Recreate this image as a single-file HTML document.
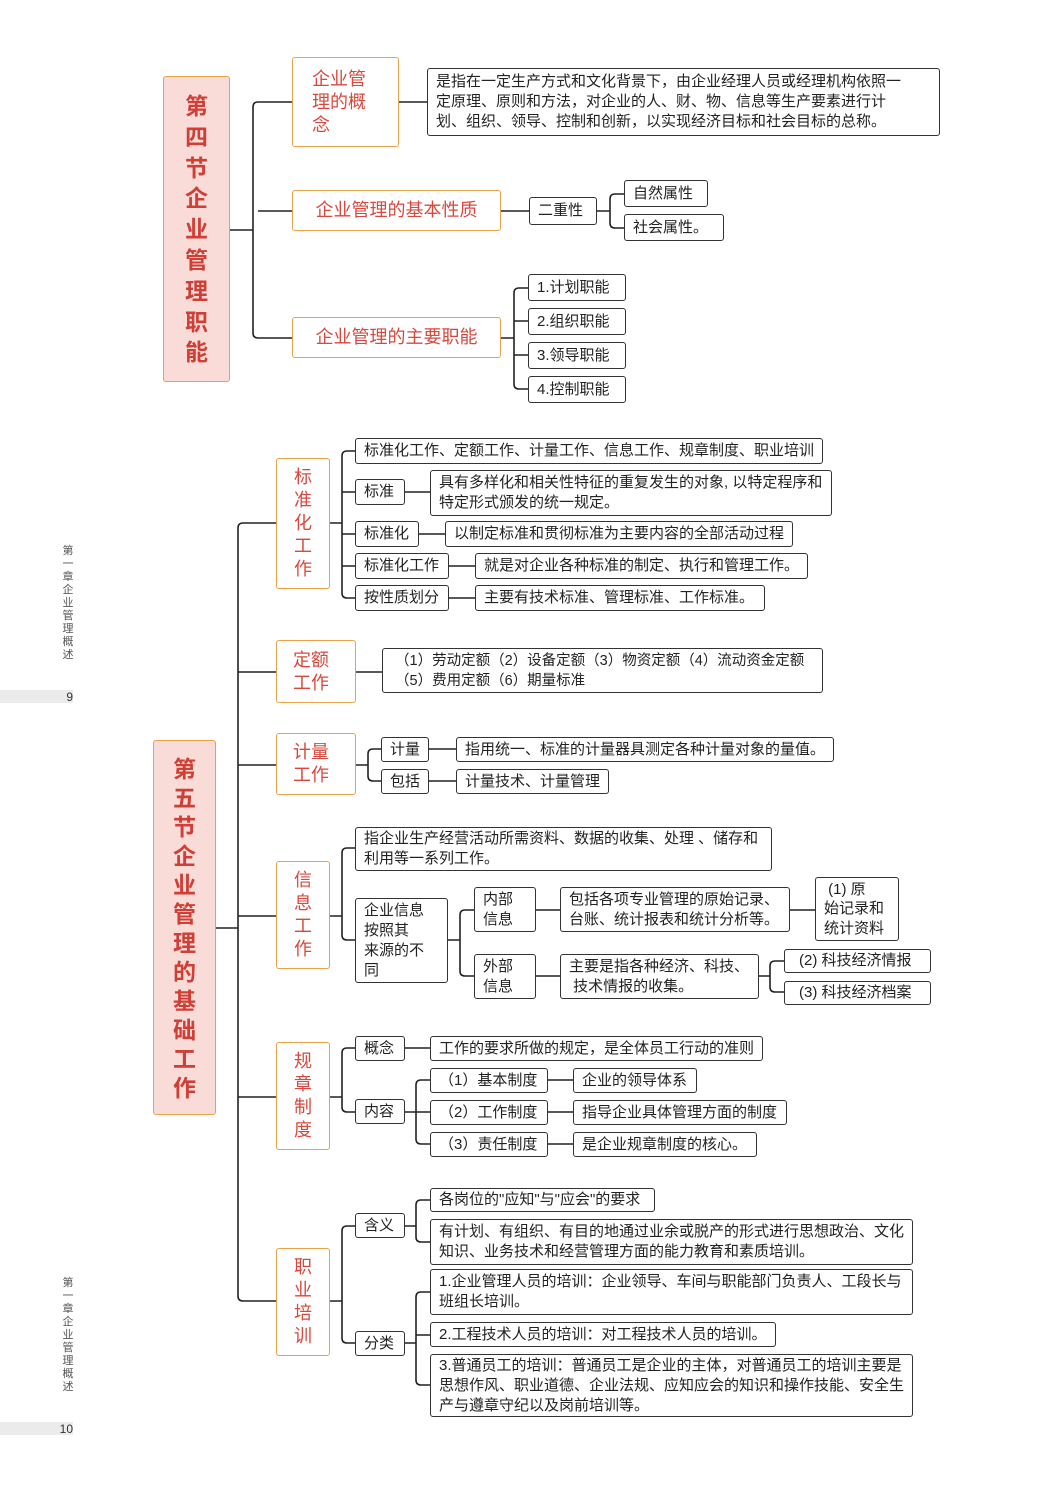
<!DOCTYPE html>
<html><head><meta charset="utf-8">
<style>
body{margin:0;background:#fff;}
#p{position:relative;width:1052px;height:1487px;overflow:hidden;font-family:"Liberation Sans","Noto Sans CJK SC",sans-serif;}
.b{position:absolute;box-sizing:border-box;border:1.5px solid #333;border-radius:3px;font-size:15px;line-height:20px;color:#222;padding:0 8px;display:flex;align-items:center;white-space:nowrap;background:#fff;}
.o{position:absolute;box-sizing:border-box;border:1.5px solid #e8a24a;border-radius:3px;font-size:18px;line-height:23px;color:#d9483e;background:#fff;display:flex;align-items:center;justify-content:center;text-align:center;}
.r{position:absolute;box-sizing:border-box;border:1.5px solid #e8a24a;border-radius:3px;background:#f9dcd8;color:#cf3f36;font-weight:bold;font-size:23px;display:flex;justify-content:center;text-align:center;}
.side{position:absolute;font-size:11px;color:#555;width:14px;line-height:13px;text-align:center;}
.band{position:absolute;left:0;width:73px;height:13px;background:#ebebeb;font-size:12px;color:#333;text-align:right;line-height:14px;}
svg{position:absolute;left:0;top:0;}
</style></head><body><div id="p">
<svg width="1052" height="1487" fill="none" stroke="#222" stroke-width="1.6">
<path d="M230 230H253M258 102H292M253 107V333M258 211H292M258 338H292M253 107Q253 102 258 102M253 333Q253 338 258 338"/>
<path d="M399 102H427M501 211H529M597 211H610M610 199V223M610 199Q610 194 615 194H624M610 223Q610 228 615 228H624"/>
<path d="M501 338H514M514 293V384M514 293Q514 288 519 288H528M514 321H528M514 355H528M514 384Q514 389 519 389H528"/>
<path d="M216 928H238M238 528V1296M238 528Q238 523 243 523H276M238 672H276M238 765H276M238 916H276M238 1097H276M238 1296Q238 1301 243 1301H276"/>
<path d="M330 523H342M342 456V593M342 456Q342 451 347 451H355M342 492H355M342 534H355M342 566H355M342 593Q342 598 347 598H355"/>
<path d="M405 492H430M419 534H445M449 566H475M449 598H475"/>
<path d="M356 672H382"/>
<path d="M356 765H368M368 754V776M368 754Q368 749 373 749H381M368 776Q368 781 373 781H381M429 749H456M429 781H456"/>
<path d="M330 916H342M342 853V935M342 853Q342 848 347 848H355M342 935Q342 940 347 940H355"/>
<path d="M448 940H460M460 915V971M460 915Q460 910 465 910H474M460 971Q460 976 465 976H474M536 910H560M790 910H815M536 976H560M759 976H770M770 966V987M770 966Q770 961 775 961H784M770 987Q770 992 775 992H784"/>
<path d="M330 1097H342M342 1053V1107M342 1053Q342 1048 347 1048H355M342 1107Q342 1112 347 1112H355M405 1048H430"/>
<path d="M405 1112H416M416 1085V1139M416 1085Q416 1080 421 1080H430M416 1112H430M416 1139Q416 1144 421 1144H430M548 1080H573M548 1112H573M548 1144H573"/>
<path d="M330 1301H342M342 1231V1338M342 1231Q342 1226 347 1226H355M342 1338Q342 1343 347 1343H355"/>
<path d="M405 1226H416M416 1205V1237M416 1205Q416 1200 421 1200H430M416 1237Q416 1242 421 1242H430"/>
<path d="M405 1343H416M416 1297V1380M416 1297Q416 1292 421 1292H430M416 1335H430M416 1380Q416 1385 421 1385H430"/>
</svg>

<div class="side" style="left:61px;top:545px;">第<br>一<br>章<br>企<br>业<br>管<br>理<br>概<br>述</div>
<div class="band" style="top:690px;">9</div>
<div class="side" style="left:61px;top:1277px;">第<br>一<br>章<br>企<br>业<br>管<br>理<br>概<br>述</div>
<div class="band" style="top:1422px;">10</div>

<div class="r" style="left:163px;top:76px;width:67px;height:306px;line-height:30.8px;padding-top:14px;">第<br>四<br>节<br>企<br>业<br>管<br>理<br>职<br>能</div>
<div class="o" style="left:292px;top:57px;width:107px;height:90px;justify-content:flex-start;text-align:left;padding-left:19px;">企业管<br>理的概<br>念</div>
<div class="b" style="left:427px;top:68px;width:513px;height:68px;">是指在一定生产方式和文化背景下，由企业经理人员或经理机构依照一<br>定原理、原则和方法，对企业的人、财、物、信息等生产要素进行计<br>划、组织、领导、控制和创新，以实现经济目标和社会目标的总称。</div>
<div class="o" style="left:292px;top:190px;width:209px;height:41px;">企业管理的基本性质</div>
<div class="b" style="left:529px;top:197px;width:68px;height:28px;">二重性</div>
<div class="b" style="left:624px;top:180px;width:84px;height:27px;">自然属性</div>
<div class="b" style="left:624px;top:214px;width:100px;height:27px;">社会属性。</div>
<div class="o" style="left:292px;top:317px;width:209px;height:41px;">企业管理的主要职能</div>
<div class="b" style="left:528px;top:274px;width:98px;height:27px;">1.计划职能</div>
<div class="b" style="left:528px;top:308px;width:98px;height:27px;">2.组织职能</div>
<div class="b" style="left:528px;top:342px;width:98px;height:27px;">3.领导职能</div>
<div class="b" style="left:528px;top:376px;width:98px;height:27px;">4.控制职能</div>

<div class="r" style="left:153px;top:740px;width:63px;height:375px;line-height:29px;padding-top:14px;">第<br>五<br>节<br>企<br>业<br>管<br>理<br>的<br>基<br>础<br>工<br>作</div>

<div class="o" style="left:276px;top:458px;width:54px;height:131px;">标<br>准<br>化<br>工<br>作</div>
<div class="b" style="left:355px;top:438px;width:468px;height:26px;">标准化工作、定额工作、计量工作、信息工作、规章制度、职业培训</div>
<div class="b" style="left:355px;top:479px;width:50px;height:26px;">标准</div>
<div class="b" style="left:430px;top:470px;width:402px;height:46px;">具有多样化和相关性特征的重复发生的对象, 以特定程序和<br>特定形式颁发的统一规定。</div>
<div class="b" style="left:355px;top:521px;width:64px;height:26px;">标准化</div>
<div class="b" style="left:445px;top:521px;width:348px;height:26px;">以制定标准和贯彻标准为主要内容的全部活动过程</div>
<div class="b" style="left:355px;top:553px;width:94px;height:26px;">标准化工作</div>
<div class="b" style="left:475px;top:553px;width:333px;height:26px;">就是对企业各种标准的制定、执行和管理工作。</div>
<div class="b" style="left:355px;top:585px;width:94px;height:26px;">按性质划分</div>
<div class="b" style="left:475px;top:585px;width:290px;height:26px;">主要有技术标准、管理标准、工作标准。</div>

<div class="o" style="left:276px;top:640px;width:80px;height:63px;justify-content:flex-start;padding-left:16px;">定额<br>工作</div>
<div class="b" style="left:382px;top:648px;width:441px;height:45px;padding-left:12px;font-size:14.5px;">（1）劳动定额（2）设备定额（3）物资定额（4）流动资金定额<br>（5）费用定额（6）期量标准</div>

<div class="o" style="left:276px;top:733px;width:80px;height:62px;justify-content:flex-start;padding-left:16px;">计量<br>工作</div>
<div class="b" style="left:381px;top:737px;width:48px;height:25px;">计量</div>
<div class="b" style="left:381px;top:769px;width:48px;height:25px;">包括</div>
<div class="b" style="left:456px;top:737px;width:378px;height:25px;">指用统一、标准的计量器具测定各种计量对象的量值。</div>
<div class="b" style="left:456px;top:769px;width:153px;height:25px;">计量技术、计量管理</div>

<div class="o" style="left:276px;top:861px;width:54px;height:108px;">信<br>息<br>工<br>作</div>
<div class="b" style="left:355px;top:827px;width:417px;height:44px;">指企业生产经营活动所需资料、数据的收集、处理 、储存和<br>利用等一系列工作。</div>
<div class="b" style="left:355px;top:898px;width:93px;height:85px;">企业信息<br>按照其<br>来源的不<br>同</div>
<div class="b" style="left:474px;top:887px;width:62px;height:45px;">内部<br>信息</div>
<div class="b" style="left:474px;top:954px;width:62px;height:45px;">外部<br>信息</div>
<div class="b" style="left:560px;top:887px;width:230px;height:45px;">包括各项专业管理的原始记录、<br>台账、统计报表和统计分析等。</div>
<div class="b" style="left:815px;top:877px;width:84px;height:64px;line-height:19.5px;">&nbsp;(1) 原<br>始记录和<br>统计资料</div>
<div class="b" style="left:560px;top:954px;width:199px;height:45px;">主要是指各种经济、科技、<br>&nbsp;技术情报的收集。</div>
<div class="b" style="left:784px;top:949px;width:147px;height:24px;padding-left:14px;">(2) 科技经济情报</div>
<div class="b" style="left:784px;top:981px;width:147px;height:24px;padding-left:14px;">(3) 科技经济档案</div>

<div class="o" style="left:276px;top:1042px;width:54px;height:108px;">规<br>章<br>制<br>度</div>
<div class="b" style="left:355px;top:1036px;width:50px;height:25px;">概念</div>
<div class="b" style="left:430px;top:1036px;width:333px;height:25px;">工作的要求所做的规定，是全体员工行动的准则</div>
<div class="b" style="left:355px;top:1099px;width:50px;height:25px;">内容</div>
<div class="b" style="left:430px;top:1068px;width:118px;height:25px;">（1）基本制度</div>
<div class="b" style="left:430px;top:1100px;width:118px;height:25px;">（2）工作制度</div>
<div class="b" style="left:430px;top:1132px;width:118px;height:25px;">（3）责任制度</div>
<div class="b" style="left:573px;top:1068px;width:124px;height:25px;">企业的领导体系</div>
<div class="b" style="left:573px;top:1100px;width:214px;height:25px;">指导企业具体管理方面的制度</div>
<div class="b" style="left:573px;top:1132px;width:184px;height:25px;">是企业规章制度的核心。</div>

<div class="o" style="left:276px;top:1248px;width:54px;height:108px;">职<br>业<br>培<br>训</div>
<div class="b" style="left:355px;top:1213px;width:50px;height:25px;">含义</div>
<div class="b" style="left:355px;top:1331px;width:50px;height:25px;">分类</div>
<div class="b" style="left:430px;top:1188px;width:225px;height:24px;">各岗位的"应知"与"应会"的要求</div>
<div class="b" style="left:430px;top:1219px;width:483px;height:46px;">有计划、有组织、有目的地通过业余或脱产的形式进行思想政治、文化<br>知识、业务技术和经营管理方面的能力教育和素质培训。</div>
<div class="b" style="left:430px;top:1269px;width:483px;height:46px;">1.企业管理人员的培训：企业领导、车间与职能部门负责人、工段长与<br>班组长培训。</div>
<div class="b" style="left:430px;top:1322px;width:346px;height:25px;">2.工程技术人员的培训：对工程技术人员的培训。</div>
<div class="b" style="left:430px;top:1354px;width:483px;height:63px;">3.普通员工的培训：普通员工是企业的主体，对普通员工的培训主要是<br>思想作风、职业道德、企业法规、应知应会的知识和操作技能、安全生<br>产与遵章守纪以及岗前培训等。</div>
</div></body></html>
